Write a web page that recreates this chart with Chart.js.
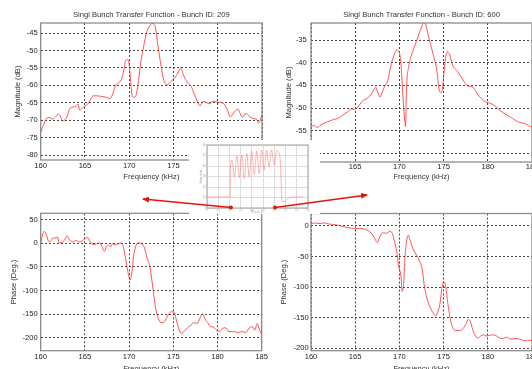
<!DOCTYPE html>
<html>
<head>
<meta charset="utf-8">
<script src="https://cdn.jsdelivr.net/npm/chart.js@4.4.0/dist/chart.umd.min.js"></script>
<style>
body{margin:0;background:#fff;width:532px;height:369px;overflow:hidden;position:relative}
canvas{position:absolute}
#inset{position:absolute;left:189px;top:140px;width:131px;height:74px;background:#fff}
#arrows{position:absolute;left:0;top:0}
</style>
</head>
<body>
<canvas id="c1" width="270" height="186" style="left:0;top:0"></canvas>
<canvas id="c2" width="280" height="186" style="left:266px;top:0"></canvas>
<canvas id="c3" width="270" height="184" style="left:0;top:195px"></canvas>
<canvas id="c4" width="280" height="184" style="left:266px;top:195px"></canvas>
<div id="inset"><canvas id="c5" width="131" height="74" style="left:0;top:0"></canvas></div>
<svg id="arrows" width="532" height="369">
  <defs>
    <marker id="ah" markerUnits="userSpaceOnUse" markerWidth="7" markerHeight="6" refX="6" refY="3" orient="auto">
      <path d="M0,0 L7,3 L0,6 z" fill="#e8120c"/>
    </marker>
  </defs>
  <line x1="231" y1="207.5" x2="143" y2="199" stroke="#e8120c" stroke-width="1.3" marker-end="url(#ah)"/>
  <circle cx="231" cy="207.5" r="2" fill="#e8120c"/>
  <line x1="275" y1="207.5" x2="367" y2="195" stroke="#e8120c" stroke-width="1.3" marker-end="url(#ah)"/>
  <circle cx="275" cy="207.5" r="2" fill="#e8120c"/>
</svg>
<script>
// bunch 209 magnitude
const freq209Mag = [160,160.3,160.7,161.1,161.25,161.6,162.0,162.2,162.5,163.0,163.3,163.9,164.2,164.4,164.85,165.3,165.6,165.9,166.4,166.9,167.4,167.8,168.1,168.4,168.8,169.1,169.4,169.6,169.8,170.0,170.15,170.35,170.5,170.7,170.9,171.3,171.7,172.0,172.4,172.6,172.9,173.2,173.6,173.9,174.3,174.7,175.1,175.5,175.8,176.1,176.6,177.0,177.3,177.7,178.0,178.3,178.7,179.1,179.4,180.0,180.6,181.1,181.4,181.9,182.3,182.6,182.8,183.2,183.6,184.0,184.4,184.6,184.8,185]
const mag209 = [-73.4,-71.5,-69.4,-69.2,-69.7,-69.2,-68.2,-68.7,-70.2,-68.8,-66.6,-66.1,-65.4,-67.1,-66.1,-65.4,-64.2,-63.0,-63.0,-63.2,-63.4,-63.8,-62.7,-60.3,-59.2,-58.4,-55.5,-52.8,-52.6,-54.0,-58.4,-63.2,-63.4,-63.2,-61.3,-53.6,-47.8,-44.5,-42.6,-42.3,-42.8,-47.8,-54.5,-58.4,-59.8,-58.9,-57.9,-56.5,-55.0,-56.9,-59.3,-60.3,-62.2,-64.6,-65.9,-64.6,-64.9,-65.3,-64.6,-64.8,-65.1,-67.1,-69.0,-67.5,-66.8,-68.5,-69.2,-68.0,-69.0,-69.5,-69.8,-70.8,-70.0,-68.5]

// bunch 600 magnitude
const freq600Mag = [160,160.4,160.75,161.1,161.7,162.3,163.0,163.6,164.15,164.6,164.9,165.3,165.8,166.4,166.9,167.3,167.5,167.8,168.1,168.4,168.7,169.0,169.4,169.7,170.0,170.2,170.4,170.6,170.7,170.75,170.8,171.05,171.3,171.7,172.1,172.5,172.75,173.0,173.3,173.8,174.2,174.5,174.7,174.9,175.1,175.4,175.7,176.0,176.6,177.2,177.7,178.3,178.9,179.6,180.2,180.8,181.3,182.1,182.8,183.6,184.2,184.7,185]
const mag600 = [-53.9,-53.9,-54.3,-53.7,-53.2,-52.7,-52.3,-51.6,-50.8,-50.2,-50.3,-49.8,-48.5,-47.8,-46.7,-45.4,-46.3,-47.6,-46.3,-44.9,-43.9,-40.9,-38.3,-37.2,-37.8,-40.9,-47.4,-52.6,-54.1,-50.4,-46.0,-40.9,-38.7,-36.5,-34.3,-32.2,-31.2,-31.7,-34.3,-38.0,-41.3,-46.0,-46.6,-45.3,-40.9,-37.6,-38.3,-40.5,-42.0,-43.8,-45.1,-45.4,-47.1,-48.5,-48.9,-49.5,-50.4,-51.5,-52.3,-53.2,-53.4,-54.0,-54.1]

// bunch 209 phase
const freq209Ph = [160,160.2,160.4,160.6,160.9,161.1,161.3,161.6,161.9,162.1,162.4,162.65,163.0,163.3,163.7,164.0,164.3,164.65,165.0,165.3,165.6,166.0,166.3,166.7,166.9,167.2,167.4,167.7,167.9,168.1,168.4,168.8,169.1,169.3,169.6,169.9,170.1,170.3,170.5,170.8,171.1,171.4,171.7,172.0,172.4,172.6,172.8,173.0,173.3,173.6,173.9,174.1,174.4,174.8,175.1,175.3,175.6,175.9,176.2,176.6,177.0,177.3,177.7,178.0,178.3,178.6,178.9,179.2,179.5,179.9,180.2,180.6,180.9,181.3,181.9,182.3,182.7,183.2,183.6,184.0,184.2,184.5,184.7,185]
const ph209 = [-1,17,25,20,4,3,10,11,13,1,1,6,15,6,3,6,3,4,10,12,3,-3,-1,1,-6,-17,-8,-4,-8,-1,-4,-1,1,-4,-32,-64,-78,-64,-29,-4,1,-1,-8,-29,-54,-82,-110,-138,-159,-168,-168,-163,-152,-145,-146,-159,-180,-191,-187,-179,-173,-168,-170,-159,-149,-161,-168,-177,-177,-184,-187,-180,-179,-187,-187,-189,-187,-189,-179,-177,-184,-170,-180,-194]

// bunch 600 phase
const freq600Ph = [160,160.4,160.9,161.5,162.1,162.8,163.6,164.3,164.9,165.5,166.0,166.6,167.0,167.3,167.5,167.8,168.1,168.5,168.9,169.2,169.4,169.7,169.9,170.2,170.3,170.5,170.6,170.8,171.0,171.2,171.5,171.9,172.3,172.6,172.8,173.1,173.5,173.8,174.1,174.3,174.6,174.8,175.0,175.2,175.5,175.8,176.1,176.4,176.8,177.2,177.5,177.8,178.0,178.3,178.6,178.9,179.2,179.5,179.8,180.2,180.6,181.0,181.3,181.7,182.1,182.6,183.2,183.8,184.2,184.5,185]
const ph600 = [3,5,4,5,3,2,-1,-3,-4,-4,-5,-9,-15,-23,-27,-17,-11,-12,-9,-12,-23,-42,-64,-85,-107,-91,-58,-26,-15,-23,-36,-47,-58,-72,-96,-118,-134,-142,-147,-142,-126,-102,-91,-96,-129,-155,-168,-171,-171,-168,-161,-153,-155,-170,-180,-183,-180,-178,-180,-179,-178,-180,-183,-184,-182,-185,-184,-186,-188,-187,-187]

// small overview plot
const insetX = [0,20.7,20.9,22.1,24.5,26.6,28.9,31.0,33.3,35.4,37.5,39.8,42.2,44.3,46.6,48.7,51.0,53.1,55.2,57.5,59.9,62.0,64.9,67.0,75.2,85.6]
const insetY = [10.5,10.5,37.7,45.7,29.7,49.8,28.8,50.5,28.1,52.1,29.7,53.7,31.9,54.3,32.9,55.3,36.1,55.3,39.3,55.3,40.9,54.3,50,5.8,10.5,10.5]

const xTickStep = 5
const font = "Arial, 'Liberation Sans', sans-serif"
const lineColor = 'rgba(255,55,55,0.85)'
Chart.defaults.font.family = font

// plot box + title centred over the plot area (like matlab)
const frame = {
  id: 'frame',
  beforeDatasetsDraw(chart, args, opts) {
    const a = chart.chartArea, ctx = chart.ctx
    ctx.save()
    ctx.strokeStyle = opts.color || '#8c8c8c'
    ctx.lineWidth = opts.width || 1.3
    ctx.strokeRect(a.left, a.top, a.right - a.left, a.bottom - a.top)
    ctx.restore()
  },
  afterDraw(chart, args, opts) {
    if (!opts.title) return
    const a = chart.chartArea, ctx = chart.ctx
    ctx.save()
    ctx.fillStyle = '#333'
    ctx.font = '7.6px ' + font
    ctx.textAlign = 'center'
    ctx.textBaseline = 'middle'
    ctx.fillText(opts.title, (a.left + a.right) / 2, opts.titleY)
    ctx.restore()
  }
}

function pts(xs, ys) {
  return xs.map((x, i) => ({x: x, y: ys[i]}))
}

function panel(id, xs, ys, o) {
  return new Chart(document.getElementById(id), {
    type: 'line',
    data: {
      datasets: [{
        data: pts(xs, ys),
        borderColor: o.lineColor || lineColor,
        borderWidth: 1,
        pointRadius: 0,
        cubicInterpolationMode: 'monotone'
      }]
    },
    options: {
      responsive: false,
      animation: false,
      events: [],
      layout: {padding: o.pad},
      plugins: {
        legend: {display: false},
        tooltip: {enabled: false},
        title: {display: false},
        frame: {color: o.frameColor, title: o.title, titleY: o.titleY}
      },
      scales: {
        x: {
          type: 'linear', min: o.xmin, max: o.xmax,
          ticks: {stepSize: o.xstep, padding: o.xtp, color: o.tickColor || '#222', font: {size: o.fs}, maxRotation: 0, autoSkip: false, includeBounds: false},
          grid: {color: o.gridColor || '#444', drawTicks: false},
          border: {display: false, dash: o.dash},
          title: {display: true, text: o.xtitle, color: o.tickColor || '#333', font: {size: o.fs}, padding: {top: 0, bottom: o.xtb}},
          afterFit: s => { s.height = o.xh }
        },
        y: {
          min: o.ymin, max: o.ymax,
          ticks: {stepSize: o.ystep, padding: o.ytp, color: o.tickColor || '#222', font: {size: o.fs}, autoSkip: false, includeBounds: false},
          grid: {color: o.gridColor || '#444', drawTicks: false},
          border: {display: false, dash: o.dash},
          title: {display: true, text: o.ytitle, color: o.tickColor || '#333', font: {size: o.fs}, padding: {top: o.ytt, bottom: 0}},
          afterFit: s => { s.width = o.yw }
        }
      }
    },
    plugins: [frame]
  })
}

const common = {xmin: 160, xmax: 185, xstep: xTickStep, fs: 7.6, dash: [2, 2], xtitle: 'Frequency (kHz)'}

panel('c1', freq209Mag, mag209, Object.assign({}, common, {
  title: 'Singl Bunch Transfer Function - Bunch ID: 209', titleY: 14.7,
  pad: {left: 0, right: 8, top: 23, bottom: 0},
  ymin: -81.4, ymax: -42.1, ystep: 5, ytitle: 'Magnitude (dB)',
  yw: 40.7, ytp: 3, ytt: 13.7, xh: 26, xtp: 1.5, xtb: 4.7
}))

panel('c2', freq600Mag, mag600, Object.assign({}, common, {
  title: 'Singl Bunch Transfer Function - Bunch ID: 600', titleY: 14.7,
  pad: {left: 0, right: 14, top: 23, bottom: 0},
  ymin: -61.9, ymax: -31.25, ystep: 5, ytitle: 'Magnitude (dB)',
  yw: 45, ytp: 4.3, ytt: 18.7, xh: 24, xtp: 0.5, xtb: 4.7
}))

panel('c3', freq209Ph, ph209, Object.assign({}, common, {
  pad: {left: 0, right: 8.3, top: 18.3, bottom: 0},
  ymin: -227.4, ymax: 63.3, ystep: 50, ytitle: 'Phase (Deg.)',
  yw: 40.7, ytp: 3, ytt: 9.4, xh: 28.3, xtp: 1.5, xtb: 5.9
}))

panel('c4', freq600Ph, ph600, Object.assign({}, common, {
  pad: {left: 0, right: 14, top: 18.5, bottom: 0},
  ymin: -204, ymax: 20.4, ystep: 50, ytitle: 'Phase (Deg.)',
  yw: 45, ytp: 2.3, ytt: 13.7, xh: 28.3, xtp: 1.5, xtb: 5.9
}))

panel('c5', insetX, insetY, {
  xmin: 0, xmax: 90, xstep: 10, fs: 3, dash: [], xtitle: 'Bunch ID',
  lineColor: 'rgba(255,120,120,0.55)', gridColor: '#dcdcdc', tickColor: '#aaa', frameColor: '#b5b5b5',
  pad: {left: 0, right: 12, top: 5, bottom: 0},
  ymin: 0, ymax: 60, ystep: 10, ytitle: 'Magnitude',
  yw: 18, ytp: 1, ytt: 9.9, xh: 6, xtp: 0.5, xtb: 0
})
</script>
</body>
</html>
